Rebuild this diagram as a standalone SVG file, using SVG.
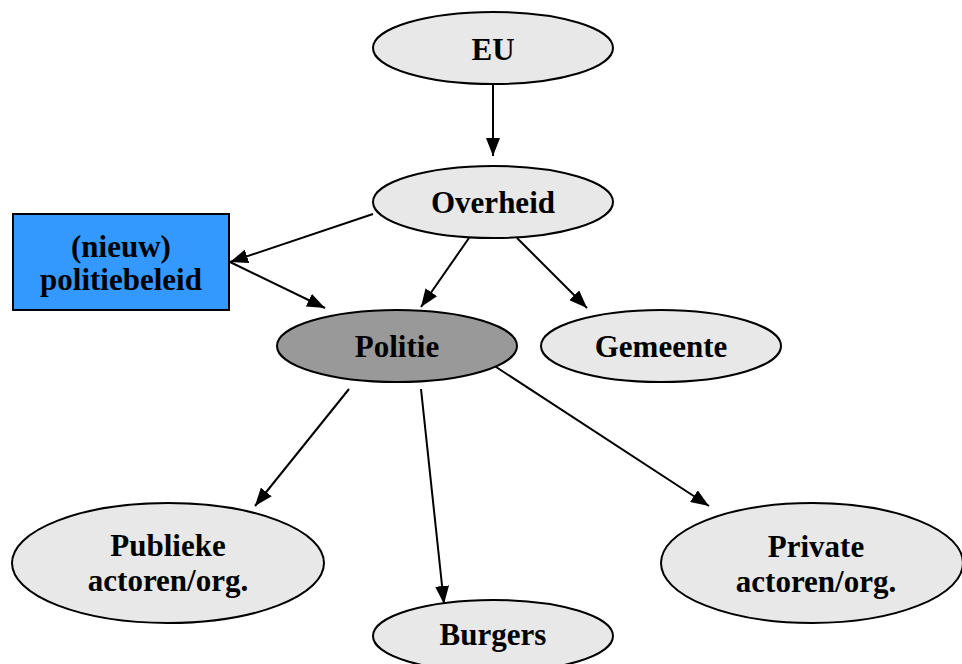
<svg xmlns="http://www.w3.org/2000/svg" width="962" height="664" viewBox="0 0 962 664">
<defs>
<style>
.n{fill:#e8e8e8;stroke:#000;stroke-width:2}
.t{font-family:"Liberation Serif","Times New Roman",serif;font-weight:bold;font-size:31px;fill:#000;text-anchor:middle}
.c line{stroke:#000;stroke-width:2;marker-end:url(#ah)}
</style>
<marker id="ah" viewBox="0 0 18 14" refX="18" refY="7" markerWidth="18" markerHeight="14" markerUnits="userSpaceOnUse" orient="auto">
<path d="M0,0 L18,7 L0,14 Z" fill="#000"/>
</marker>
</defs>
<rect width="962" height="664" fill="#fff"/>
<g id="connectors" class="c">
<line x1="493" y1="84" x2="493" y2="156"/>
<line x1="373" y1="214" x2="230" y2="262"/>
<line x1="230" y1="262" x2="325" y2="308"/>
<line x1="469" y1="238" x2="421" y2="307"/>
<line x1="517" y1="238" x2="587" y2="308"/>
<line x1="349" y1="389" x2="255" y2="506"/>
<line x1="421" y1="389" x2="444" y2="604"/>
<line x1="493" y1="365" x2="709" y2="506"/>
</g>
<g id="eu"><ellipse class="n" cx="493" cy="48" rx="120" ry="36"/><text class="t" x="493" y="60">EU</text></g>
<g id="overheid"><ellipse class="n" cx="493" cy="202" rx="120" ry="36"/><text class="t" x="493" y="213">Overheid</text></g>
<g id="beleid"><rect x="13" y="214" width="216" height="96" fill="#3399ff" stroke="#000" stroke-width="2"/><text class="t" x="121" y="257">(nieuw)</text><text class="t" x="121" y="290">politiebeleid</text></g>
<g id="politie"><ellipse cx="397" cy="346" rx="120" ry="36" fill="#999999" stroke="#000" stroke-width="2"/><text class="t" x="397" y="357">Politie</text></g>
<g id="gemeente"><ellipse class="n" cx="661" cy="346" rx="120" ry="36"/><text class="t" x="661" y="357">Gemeente</text></g>
<g id="publieke"><ellipse class="n" cx="168" cy="563" rx="156" ry="60"/><text class="t" x="168" y="556">Publieke</text><text class="t" x="168" y="591">actoren/org.</text></g>
<g id="burgers"><ellipse class="n" cx="493" cy="636" rx="120" ry="36"/><text class="t" x="493" y="645">Burgers</text></g>
<g id="private"><ellipse class="n" cx="812" cy="563" rx="151" ry="60"/><text class="t" x="816" y="557">Private</text><text class="t" x="816" y="592">actoren/org.</text></g>
</svg>
